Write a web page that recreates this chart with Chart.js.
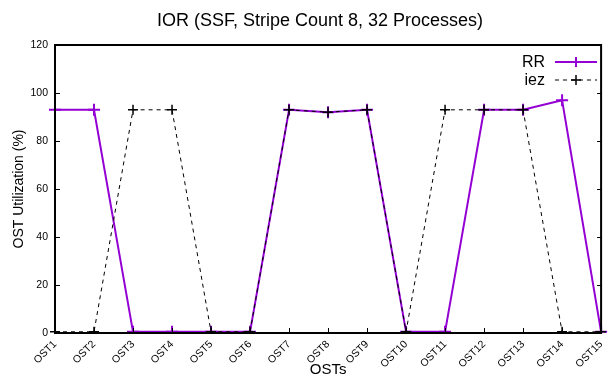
<!DOCTYPE html>
<html>
<head>
<meta charset="utf-8">
<script src="https://cdn.jsdelivr.net/npm/chart.js@4"></script>
<style>
  html, body { margin: 0; padding: 0; background: #fff; }
  #wrap { width: 615px; height: 379px; }
</style>
</head>
<body>
<div id="wrap"><canvas id="chart" width="615" height="379"></canvas></div>
<script>
// OST utilisation per target, IOR single shared file run
const osts = ['OST1', 'OST2', 'OST3', 'OST4', 'OST5', 'OST6', 'OST7', 'OST8',
              'OST9', 'OST10', 'OST11', 'OST12', 'OST13', 'OST14', 'OST15'];
const rrValues  = [93, 93, 0.5, 0.5, 0.5, 0.5, 93, 92, 93, 0.5, 0.5, 93, 93, 97, 0.5];
const iezValues = [0.5, 0.5, 93, 93, 0.5, 0.5, 93, 92, 93, 0.5, 93, 93, 93, 0.5, 0.5];
const yTicks = [0, 20, 40, 60, 80, 100, 120];

const FONT = "'Liberation Sans', Arial, Helvetica, sans-serif";
const PURPLE = '#9400d3';

// gnuplot-like frame: full border, inward ticks, mirrored y ticks, title on top
const framePlugin = {
    id: 'frame',
    afterDatasetsDraw(chart) {
        const { ctx, chartArea: a, scales: { x, y } } = chart;
        ctx.save();
        ctx.strokeStyle = '#000';
        ctx.lineWidth = 1;
        yTicks.forEach(v => {
            const py = Math.round(y.getPixelForValue(v)) + 0.5;
            ctx.beginPath();
            ctx.moveTo(a.left, py); ctx.lineTo(a.left + 5, py);
            ctx.moveTo(a.right, py); ctx.lineTo(a.right - 4, py);
            ctx.stroke();
        });
        osts.forEach((_, i) => {
            const px = Math.round(x.getPixelForValue(i)) + 0.5;
            ctx.beginPath();
            ctx.moveTo(px, a.bottom); ctx.lineTo(px, a.bottom - 5);
            ctx.stroke();
        });
        ctx.lineWidth = 2;
        ctx.strokeRect(a.left, a.top, a.right - a.left, a.bottom - a.top);
        ctx.restore();
    },
    afterDraw(chart) {
        const { ctx } = chart;
        ctx.save();
        ctx.fillStyle = '#000';
        ctx.font = '18px ' + FONT;
        ctx.textAlign = 'center';
        ctx.textBaseline = 'middle';
        ctx.fillText('IOR (SSF, Stripe Count 8, 32 Processes)', 320, 21);
        ctx.restore();
    }
};

// key in the top right corner: label first, then line sample with marker
const keyPlugin = {
    id: 'key',
    afterDraw(chart) {
        const { ctx } = chart;
        const rows = [chart.data.datasets[1], chart.data.datasets[0]];
        ctx.save();
        ctx.font = '16px ' + FONT;
        ctx.textAlign = 'right';
        ctx.textBaseline = 'middle';
        rows.forEach((ds, i) => {
            const yy = 62 + i * 18;
            ctx.fillStyle = '#000';
            ctx.fillText(ds.label, 545, yy + 1);
            ctx.strokeStyle = ds.borderColor;
            ctx.lineWidth = ds.borderWidth;
            ctx.setLineDash(ds.borderDash || []);
            ctx.beginPath();
            ctx.moveTo(555, yy); ctx.lineTo(597, yy);
            ctx.stroke();
            ctx.setLineDash([]);
            ctx.lineWidth = ds.pointBorderWidth;
            ctx.beginPath();
            ctx.moveTo(576 - 5, yy); ctx.lineTo(576 + 5, yy);
            ctx.moveTo(576, yy - 5); ctx.lineTo(576, yy + 5);
            ctx.stroke();
        });
        ctx.restore();
    }
};

new Chart(document.getElementById('chart'), {
    type: 'line',
    data: {
        labels: osts,
        datasets: [{
            label: 'iez',
            data: iezValues,
            borderColor: '#000',
            borderWidth: 1,
            borderDash: [4, 4],
            pointStyle: 'cross',
            pointRadius: 5,
            pointBorderWidth: 1.5,
            pointBorderColor: '#000',
            tension: 0,
            order: 1
        }, {
            label: 'RR',
            data: rrValues,
            borderColor: PURPLE,
            borderWidth: 2,
            pointStyle: 'cross',
            pointRadius: 6,
            pointBorderWidth: 2,
            pointBorderColor: PURPLE,
            tension: 0,
            order: 2
        }]
    },
    options: {
        responsive: false,
        animation: false,
        layout: { padding: { top: 45, right: 2, left: 0, bottom: 0 } },
        plugins: {
            legend: { display: false },
            title: { display: false },
            tooltip: { enabled: false }
        },
        scales: {
            x: {
                offset: false,
                grid: { display: false, drawTicks: false },
                border: { display: false },
                afterFit: s => { s.height = 46; },
                ticks: {
                    color: '#000',
                    font: { family: FONT, size: 10.5 },
                    maxRotation: 45,
                    minRotation: 45,
                    padding: 5,
                    autoSkip: false
                },
                title: {
                    display: true,
                    text: 'OSTs',
                    color: '#000',
                    font: { family: FONT, size: 15 },
                    padding: { top: 0, bottom: 0 }
                }
            },
            y: {
                min: 0,
                max: 120,
                grid: { display: false, drawTicks: false },
                border: { display: false },
                afterFit: s => { s.width = 55; },
                afterBuildTicks: s => { s.ticks = yTicks.map(v => ({ value: v })); },
                ticks: {
                    color: '#000',
                    font: { family: FONT, size: 10.5 },
                    padding: 7
                },
                title: {
                    display: true,
                    text: 'OST Utilization (%)',
                    color: '#000',
                    font: { family: FONT, size: 14 },
                    padding: { top: 11, bottom: 0 }
                }
            }
        }
    },
    plugins: [framePlugin, keyPlugin]
});
</script>
</body>
</html>
